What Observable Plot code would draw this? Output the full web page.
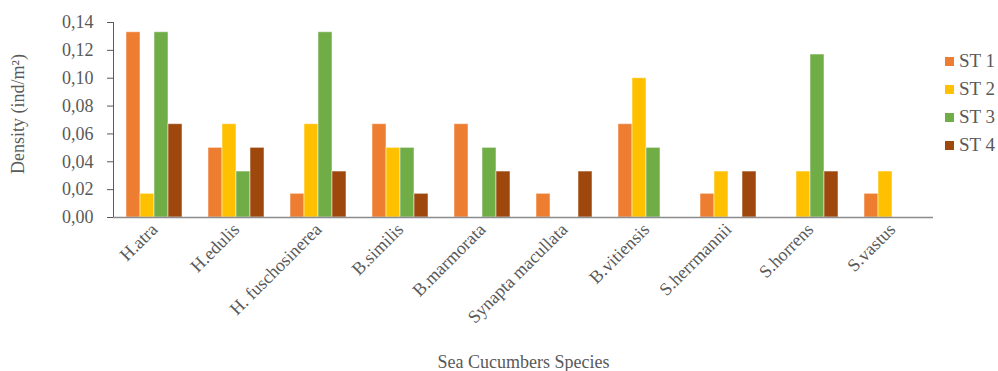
<!DOCTYPE html>
<html>
<head>
<meta charset="utf-8">
<script src="https://cdn.jsdelivr.net/npm/d3@7"></script>
<script src="https://cdn.jsdelivr.net/npm/@observablehq/plot@0.6"></script>
<style>
  body { margin: 0; background: #fff; }
  #chart { position: relative; width: 998px; height: 371px; font-family: "Liberation Serif", "Times New Roman", serif; color: #595959; }
  #chart svg text { font-family: "Liberation Serif", "Times New Roman", serif; }
  #legend { position: absolute; left: 945px; top: 47px; }
  .item { display: flex; align-items: center; height: 28px; font-size: 19px; }
  .swatch { width: 9px; height: 9px; margin-right: 5px; }
  #ylabel { position: absolute; left: 18px; top: 114px; font-size: 18px; white-space: nowrap;
            transform: translate(-50%, -50%) rotate(-90deg); }
</style>
</head>
<body>
<div id="chart"></div>
<script>
// Sea cucumber density (ind/m²) per species at four stations
const species = ["H.atra", "H.edulis", "H. fuschosinerea", "B.similis", "B.marmorata",
                 "Synapta macullata", "B.vitiensis", "S.herrmannii", "S.horrens", "S.vastus"];
const stations = ["ST 1", "ST 2", "ST 3", "ST 4"];
const st1 = [0.133, 0.050, 0.017, 0.067, 0.067, 0.017, 0.067, 0.017, 0.000, 0.017];
const st2 = [0.017, 0.067, 0.067, 0.050, 0.000, 0.000, 0.100, 0.033, 0.033, 0.033];
const st3 = [0.133, 0.033, 0.133, 0.050, 0.050, 0.000, 0.050, 0.000, 0.117, 0.000];
const st4 = [0.067, 0.050, 0.033, 0.017, 0.033, 0.033, 0.000, 0.033, 0.033, 0.000];
const yTicks = [0, 0.02, 0.04, 0.06, 0.08, 0.10, 0.12, 0.14];
const colors = ["#ED7D31", "#FFC000", "#70AD47", "#9E480E"];

const series = [st1, st2, st3, st4];
const rows = [];
species.forEach((s, i) => stations.forEach((st, j) => {
  rows.push({species: s, station: st, value: series[j][i]});
}));

const fmt = d => d.toFixed(2).replace(".", ",");

const chart = Plot.plot({
  width: 998,
  height: 371,
  marginLeft: 110,
  marginRight: 63,
  marginTop: 22,
  marginBottom: 154,
  style: {fontFamily: "'Liberation Serif', 'Times New Roman', serif", fontSize: "18px", color: "#595959", background: "white"},
  facet: {data: rows, x: "species"},
  fx: {domain: species, padding: 0, tickSize: 0, tickPadding: 9, tickRotate: -45,
       label: "Sea Cucumbers Species", labelAnchor: "center", labelOffset: 150},
  x: {domain: stations, paddingInner: 0, paddingOuter: 0.75, axis: null},
  y: {domain: [0, 0.14], ticks: yTicks, tickFormat: fmt, tickSize: 6, tickPadding: 14,
      line: true, label: null},
  color: {domain: stations, range: colors},
  marks: [
    Plot.barY(rows, {filter: d => d.value > 0, x: "station", y: "value", fill: "station",
                     stroke: "white", strokeOpacity: 0.5, strokeWidth: 1}),
    Plot.ruleY([0], {stroke: "#8c8c8c", strokeWidth: 1.5})
  ]
});
chart.style.overflow = "visible";
const root = document.getElementById("chart");
root.appendChild(chart);

// y axis title
const ylabel = document.createElement("div");
ylabel.id = "ylabel";
ylabel.textContent = "Density (ind/m²)";
root.appendChild(ylabel);

// legend
const legend = document.createElement("div");
legend.id = "legend";
stations.forEach((st, j) => {
  const item = document.createElement("div");
  item.className = "item";
  const sw = document.createElement("span");
  sw.className = "swatch";
  sw.style.background = colors[j];
  const label = document.createElement("span");
  label.textContent = st;
  item.appendChild(sw);
  item.appendChild(label);
  legend.appendChild(item);
});
root.appendChild(legend);
</script>
</body>
</html>
